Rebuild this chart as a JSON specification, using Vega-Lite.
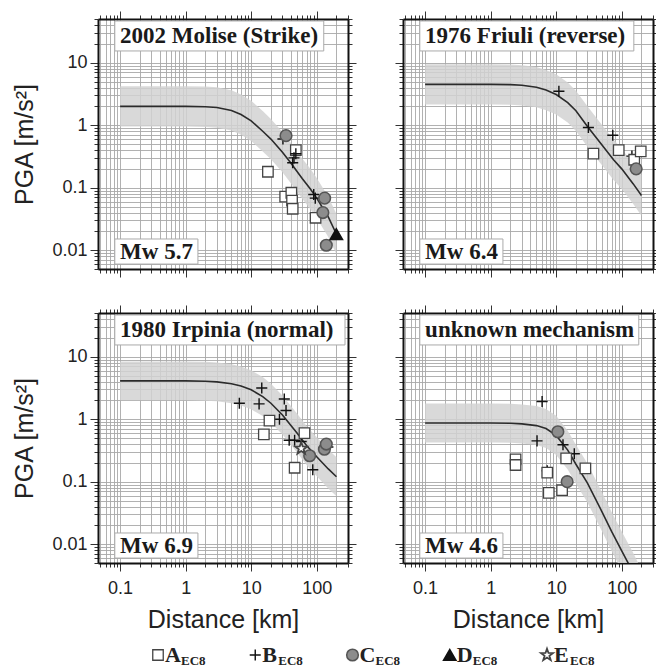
{
  "$schema": "https://vega.github.io/schema/vega-lite/v6.json",
  "background": "white",
  "padding": {"left": 12, "top": 10, "right": 0, "bottom": 0},
  "config": {
    "view": {"stroke": null},
    "axis": {
      "labelFont": "Liberation Sans", "labelFontSize": 18, "labelColor": "#222",
      "titleFont": "Liberation Sans", "titleFontSize": 25, "titleFontWeight": "normal", "titleColor": "#222",
      "gridColor": "#a8a8a8", "gridWidth": 0.9, "tickColor": "#333", "tickWidth": 1,
      "domainColor": "#111", "domainWidth": 2, "labelOverlap": false, "labelFlush": false, "minExtent": 0
    }
  },
  "datasets": {
    "model": [
      {"panel":"p1","dist":0.1,"pga":2.0,"lo":0.952,"hi":4.2},
      {"panel":"p1","dist":0.3,"pga":2.0,"lo":0.952,"hi":4.2},
      {"panel":"p1","dist":1,"pga":2.0,"lo":0.952,"hi":4.2},
      {"panel":"p1","dist":2,"pga":1.97,"lo":0.938,"hi":4.14},
      {"panel":"p1","dist":3,"pga":1.92,"lo":0.914,"hi":4.03},
      {"panel":"p1","dist":5,"pga":1.72,"lo":0.819,"hi":3.61},
      {"panel":"p1","dist":7,"pga":1.48,"lo":0.705,"hi":3.11},
      {"panel":"p1","dist":10,"pga":1.17,"lo":0.557,"hi":2.46},
      {"panel":"p1","dist":15,"pga":0.8,"lo":0.381,"hi":1.68},
      {"panel":"p1","dist":20,"pga":0.6,"lo":0.286,"hi":1.26},
      {"panel":"p1","dist":30,"pga":0.37,"lo":0.176,"hi":0.777},
      {"panel":"p1","dist":40,"pga":0.25,"lo":0.119,"hi":0.525},
      {"panel":"p1","dist":60,"pga":0.14,"lo":0.0667,"hi":0.294},
      {"panel":"p1","dist":80,"pga":0.095,"lo":0.0452,"hi":0.2},
      {"panel":"p1","dist":100,"pga":0.068,"lo":0.0324,"hi":0.143},
      {"panel":"p1","dist":150,"pga":0.034,"lo":0.0162,"hi":0.0714},
      {"panel":"p1","dist":200,"pga":0.018,"lo":0.00857,"hi":0.0378},
      {"panel":"p2","dist":0.1,"pga":4.5,"lo":2.14,"hi":9.45},
      {"panel":"p2","dist":0.3,"pga":4.5,"lo":2.14,"hi":9.45},
      {"panel":"p2","dist":1,"pga":4.5,"lo":2.14,"hi":9.45},
      {"panel":"p2","dist":2,"pga":4.45,"lo":2.12,"hi":9.35},
      {"panel":"p2","dist":3,"pga":4.35,"lo":2.07,"hi":9.14},
      {"panel":"p2","dist":5,"pga":4.05,"lo":1.93,"hi":8.5},
      {"panel":"p2","dist":7,"pga":3.65,"lo":1.74,"hi":7.67},
      {"panel":"p2","dist":10,"pga":3.1,"lo":1.48,"hi":6.51},
      {"panel":"p2","dist":15,"pga":2.3,"lo":1.1,"hi":4.83},
      {"panel":"p2","dist":20,"pga":1.7,"lo":0.81,"hi":3.57},
      {"panel":"p2","dist":30,"pga":0.95,"lo":0.452,"hi":2.0},
      {"panel":"p2","dist":50,"pga":0.48,"lo":0.229,"hi":1.01},
      {"panel":"p2","dist":75,"pga":0.28,"lo":0.133,"hi":0.588},
      {"panel":"p2","dist":100,"pga":0.2,"lo":0.0952,"hi":0.42},
      {"panel":"p2","dist":150,"pga":0.115,"lo":0.0548,"hi":0.242},
      {"panel":"p2","dist":200,"pga":0.075,"lo":0.0357,"hi":0.158},
      {"panel":"p3","dist":0.1,"pga":4.1,"lo":2.0,"hi":8.4},
      {"panel":"p3","dist":0.3,"pga":4.1,"lo":2.0,"hi":8.4},
      {"panel":"p3","dist":1,"pga":4.1,"lo":2.0,"hi":8.4},
      {"panel":"p3","dist":2,"pga":4.05,"lo":1.98,"hi":8.3},
      {"panel":"p3","dist":3,"pga":3.95,"lo":1.93,"hi":8.1},
      {"panel":"p3","dist":5,"pga":3.7,"lo":1.8,"hi":7.59},
      {"panel":"p3","dist":7,"pga":3.4,"lo":1.66,"hi":6.97},
      {"panel":"p3","dist":10,"pga":2.95,"lo":1.44,"hi":6.05},
      {"panel":"p3","dist":15,"pga":2.3,"lo":1.12,"hi":4.72},
      {"panel":"p3","dist":20,"pga":1.8,"lo":0.878,"hi":3.69},
      {"panel":"p3","dist":30,"pga":1.17,"lo":0.571,"hi":2.4},
      {"panel":"p3","dist":50,"pga":0.6,"lo":0.293,"hi":1.23},
      {"panel":"p3","dist":70,"pga":0.38,"lo":0.185,"hi":0.779},
      {"panel":"p3","dist":100,"pga":0.25,"lo":0.122,"hi":0.513},
      {"panel":"p3","dist":150,"pga":0.16,"lo":0.078,"hi":0.328},
      {"panel":"p3","dist":200,"pga":0.12,"lo":0.0585,"hi":0.246},
      {"panel":"p4","dist":0.1,"pga":0.87,"lo":0.424,"hi":1.78},
      {"panel":"p4","dist":0.3,"pga":0.87,"lo":0.424,"hi":1.78},
      {"panel":"p4","dist":1,"pga":0.87,"lo":0.424,"hi":1.78},
      {"panel":"p4","dist":2,"pga":0.86,"lo":0.42,"hi":1.76},
      {"panel":"p4","dist":3,"pga":0.84,"lo":0.41,"hi":1.72},
      {"panel":"p4","dist":5,"pga":0.79,"lo":0.385,"hi":1.62},
      {"panel":"p4","dist":7,"pga":0.71,"lo":0.346,"hi":1.46},
      {"panel":"p4","dist":10,"pga":0.55,"lo":0.268,"hi":1.13},
      {"panel":"p4","dist":15,"pga":0.32,"lo":0.156,"hi":0.656},
      {"panel":"p4","dist":20,"pga":0.19,"lo":0.0927,"hi":0.39},
      {"panel":"p4","dist":30,"pga":0.095,"lo":0.0463,"hi":0.195},
      {"panel":"p4","dist":50,"pga":0.033,"lo":0.0161,"hi":0.0677},
      {"panel":"p4","dist":70,"pga":0.016,"lo":0.0078,"hi":0.0328},
      {"panel":"p4","dist":100,"pga":0.0078,"lo":0.0038,"hi":0.016},
      {"panel":"p4","dist":150,"pga":0.0035,"lo":0.0017,"hi":0.0072},
      {"panel":"p4","dist":200,"pga":0.0019,"lo":0.00093,"hi":0.0039}
    ],
    "obs": [
      {"panel":"p1","site":"A","dist":18,"pga":0.18},
      {"panel":"p1","site":"A","dist":48,"pga":0.40},
      {"panel":"p1","site":"A","dist":33,"pga":0.072},
      {"panel":"p1","site":"A","dist":41,"pga":0.083},
      {"panel":"p1","site":"A","dist":42,"pga":0.062},
      {"panel":"p1","site":"A","dist":43,"pga":0.046},
      {"panel":"p1","site":"A","dist":96,"pga":0.033},
      {"panel":"p1","site":"B","dist":30.5,"pga":0.6},
      {"panel":"p1","site":"B","dist":48,"pga":0.35},
      {"panel":"p1","site":"B","dist":45,"pga":0.3},
      {"panel":"p1","site":"B","dist":43,"pga":0.25},
      {"panel":"p1","site":"B","dist":90,"pga":0.078},
      {"panel":"p1","site":"B","dist":95,"pga":0.068},
      {"panel":"p1","site":"C","dist":34,"pga":0.68},
      {"panel":"p1","site":"C","dist":132,"pga":0.068},
      {"panel":"p1","site":"C","dist":124,"pga":0.040},
      {"panel":"p1","site":"C","dist":140,"pga":0.012},
      {"panel":"p1","site":"D","dist":199,"pga":0.018},
      {"panel":"p2","site":"B","dist":11,"pga":3.5},
      {"panel":"p2","site":"B","dist":31,"pga":0.92},
      {"panel":"p2","site":"B","dist":73,"pga":0.69},
      {"panel":"p2","site":"B","dist":143,"pga":0.32},
      {"panel":"p2","site":"A","dist":37,"pga":0.35},
      {"panel":"p2","site":"A","dist":90,"pga":0.40},
      {"panel":"p2","site":"A","dist":155,"pga":0.28},
      {"panel":"p2","site":"A","dist":195,"pga":0.38},
      {"panel":"p2","site":"C","dist":166,"pga":0.20},
      {"panel":"p3","site":"B","dist":6.6,"pga":1.8},
      {"panel":"p3","site":"B","dist":13.2,"pga":1.76},
      {"panel":"p3","site":"B","dist":14.5,"pga":3.15},
      {"panel":"p3","site":"B","dist":32,"pga":2.1},
      {"panel":"p3","site":"B","dist":34,"pga":1.38},
      {"panel":"p3","site":"B","dist":27,"pga":1.0},
      {"panel":"p3","site":"B","dist":38,"pga":0.46},
      {"panel":"p3","site":"B","dist":46,"pga":0.46},
      {"panel":"p3","site":"B","dist":58,"pga":0.44},
      {"panel":"p3","site":"B","dist":87,"pga":0.155},
      {"panel":"p3","site":"B","dist":148,"pga":0.36},
      {"panel":"p3","site":"A","dist":19,"pga":0.95},
      {"panel":"p3","site":"A","dist":15.6,"pga":0.57},
      {"panel":"p3","site":"A","dist":65,"pga":0.6},
      {"panel":"p3","site":"A","dist":46,"pga":0.167},
      {"panel":"p3","site":"C","dist":78,"pga":0.26},
      {"panel":"p3","site":"C","dist":131,"pga":0.33},
      {"panel":"p3","site":"C","dist":140,"pga":0.40},
      {"panel":"p3","site":"E","dist":58,"pga":0.34},
      {"panel":"p4","site":"B","dist":6.1,"pga":1.92},
      {"panel":"p4","site":"B","dist":5.1,"pga":0.45},
      {"panel":"p4","site":"B","dist":12.7,"pga":0.39},
      {"panel":"p4","site":"B","dist":18.9,"pga":0.28},
      {"panel":"p4","site":"B","dist":7.3,"pga":0.15},
      {"panel":"p4","site":"A","dist":2.4,"pga":0.227},
      {"panel":"p4","site":"A","dist":2.4,"pga":0.185},
      {"panel":"p4","site":"A","dist":14.2,"pga":0.236},
      {"panel":"p4","site":"A","dist":27.9,"pga":0.163},
      {"panel":"p4","site":"A","dist":7.3,"pga":0.14},
      {"panel":"p4","site":"A","dist":12.3,"pga":0.073},
      {"panel":"p4","site":"A","dist":7.7,"pga":0.066},
      {"panel":"p4","site":"C","dist":10.6,"pga":0.63},
      {"panel":"p4","site":"C","dist":14.7,"pga":0.10}
    ],
    "sites": [{"site":"A"},{"site":"B"},{"site":"C"},{"site":"D"},{"site":"E"}],
    "one": [{}]
  },
  "vconcat": [
    {
      "spacing": 26,
      "vconcat": [
        {
          "spacing": 37,
          "hconcat": [
            {
              "width": 250, "height": 250,
              "resolve": {"axis": {"x": "independent", "y": "independent"}},
              "layer": [
                {"data": {"name": "model"}, "transform": [{"filter": "datum.panel === 'p1'"}],
                 "mark": {"type": "area", "color": "#d2d2d2", "opacity": 0.85, "clip": true},
                 "encoding": {
                   "x": {"field": "dist", "type": "quantitative", "scale": {"type": "log", "domain": [0.046, 300], "nice": false},
                         "axis": {"orient": "bottom", "values": [0.05,0.06,0.07,0.08,0.09,0.1,0.2,0.3,0.4,0.5,0.6,0.7,0.8,0.9,1,2,3,4,5,6,7,8,9,10,20,30,40,50,60,70,80,90,100,200,300], "grid": true, "labels": false, "title": null,
                                  "tickSize": {"condition": {"test": "abs(log(datum.value)/LN10 - round(log(datum.value)/LN10)) < 0.01", "value": 8}, "value": 4}}},
                   "y": {"field": "lo", "type": "quantitative", "scale": {"type": "log", "domain": [0.005, 50], "nice": false},
                         "axis": {"orient": "left", "values": [0.005,0.006,0.007,0.008,0.009,0.01,0.02,0.03,0.04,0.05,0.06,0.07,0.08,0.09,0.1,0.2,0.3,0.4,0.5,0.6,0.7,0.8,0.9,1,2,3,4,5,6,7,8,9,10,20,30,40,50], "grid": true,
                                  "labelExpr": "abs(log(datum.value)/LN10 - round(log(datum.value)/LN10)) < 0.01 ? format(datum.value, '~g') : ''", "labelPadding": 3,
                                  "title": "PGA [m/s²]", "titlePadding": 14,
                                  "tickSize": {"condition": {"test": "abs(log(datum.value)/LN10 - round(log(datum.value)/LN10)) < 0.01", "value": 8}, "value": 4}}},
                   "y2": {"field": "hi"}
                 }},
                {"data": {"name": "model"}, "transform": [{"filter": "datum.panel === 'p1'"}],
                 "mark": {"type": "line", "color": "#2b2b2b", "strokeWidth": 1.6, "clip": true},
                 "encoding": {
                   "x": {"field": "dist", "type": "quantitative", "scale": {"type": "log", "domain": [0.046, 300], "nice": false},
                         "axis": {"orient": "top", "values": [0.05,0.06,0.07,0.08,0.09,0.1,0.2,0.3,0.4,0.5,0.6,0.7,0.8,0.9,1,2,3,4,5,6,7,8,9,10,20,30,40,50,60,70,80,90,100,200,300], "grid": false, "labels": false, "title": null,
                                  "tickSize": {"condition": {"test": "abs(log(datum.value)/LN10 - round(log(datum.value)/LN10)) < 0.01", "value": 8}, "value": 4}}},
                   "y": {"field": "pga", "type": "quantitative", "scale": {"type": "log", "domain": [0.005, 50], "nice": false},
                         "axis": {"orient": "right", "values": [0.005,0.006,0.007,0.008,0.009,0.01,0.02,0.03,0.04,0.05,0.06,0.07,0.08,0.09,0.1,0.2,0.3,0.4,0.5,0.6,0.7,0.8,0.9,1,2,3,4,5,6,7,8,9,10,20,30,40,50], "grid": false, "labels": false, "title": null,
                                  "tickSize": {"condition": {"test": "abs(log(datum.value)/LN10 - round(log(datum.value)/LN10)) < 0.01", "value": 8}, "value": 4}}}
                 }},
                {"data": {"name": "obs"}, "transform": [{"filter": "datum.panel === 'p1'"}],
                 "mark": {"type": "point", "opacity": 1},
                 "encoding": {
                   "x": {"field": "dist", "type": "quantitative", "axis": null},
                   "y": {"field": "pga", "type": "quantitative", "axis": null},
                   "shape": {"field": "site", "type": "nominal", "legend": null, "scale": {"domain": ["A","B","C","D","E"], "range": ["square", "M-1,0L1,0M0,-1L0,1", "circle", "triangle-up", "M0,-1L0.235,-0.324L0.951,-0.309L0.38,0.124L0.588,0.809L0,0.4L-0.588,0.809L-0.38,0.124L-0.951,-0.309L-0.235,-0.324Z"]}},
                   "fill": {"field": "site", "type": "nominal", "legend": null, "scale": {"domain": ["A","B","C","D","E"], "range": ["white", "transparent", "#8c8c8c", "#111", "white"]}},
                   "stroke": {"field": "site", "type": "nominal", "legend": null, "scale": {"domain": ["A","B","C","D","E"], "range": ["#444", "#111", "#555", "#111", "#444"]}},
                   "size": {"field": "site", "type": "ordinal", "legend": null, "scale": {"domain": ["A","B","C","D","E"], "range": [110, 160, 110, 80, 100]}},
                   "strokeWidth": {"field": "site", "type": "ordinal", "legend": null, "scale": {"domain": ["A","B","C","D","E"], "range": [1.3, 1.8, 1.2, 1, 1.2]}}
                 }},
                {"data": {"name": "one"}, "mark": {"type": "rect", "fill": "white", "stroke": "#aaa", "strokeWidth": 1},
                 "encoding": {"x": {"datum": 0.083, "type": "quantitative", "axis": null}, "x2": {"datum": 128}, "y": {"datum": 15.4, "type": "quantitative", "axis": null}, "y2": {"datum": 46.5}}},
                {"data": {"name": "one"}, "mark": {"type": "text", "font": "Liberation Serif", "fontWeight": "bold", "fontSize": 23, "align": "left", "baseline": "alphabetic", "color": "#1a1a1a"},
                 "encoding": {"x": {"datum": 0.1, "type": "quantitative", "axis": null}, "y": {"datum": 20.6, "type": "quantitative", "axis": null}, "text": {"value": "2002 Molise (Strike)"}}},
                {"data": {"name": "one"}, "mark": {"type": "rect", "fill": "white", "stroke": "#aaa", "strokeWidth": 1},
                 "encoding": {"x": {"datum": 0.083, "type": "quantitative", "axis": null}, "x2": {"datum": 1.54}, "y": {"datum": 0.006, "type": "quantitative", "axis": null}, "y2": {"datum": 0.0151}}},
                {"data": {"name": "one"}, "mark": {"type": "text", "font": "Liberation Serif", "fontWeight": "bold", "fontSize": 23, "align": "left", "baseline": "alphabetic", "color": "#1a1a1a"},
                 "encoding": {"x": {"datum": 0.1, "type": "quantitative", "axis": null}, "y": {"datum": 0.0072, "type": "quantitative", "axis": null}, "text": {"value": "Mw 5.7"}}}
              ]
            },
            {
              "width": 250, "height": 250,
              "resolve": {"axis": {"x": "independent", "y": "independent"}},
              "layer": [
                {"data": {"name": "model"}, "transform": [{"filter": "datum.panel === 'p2'"}],
                 "mark": {"type": "area", "color": "#d2d2d2", "opacity": 0.85, "clip": true},
                 "encoding": {
                   "x": {"field": "dist", "type": "quantitative", "scale": {"type": "log", "domain": [0.046, 300], "nice": false},
                         "axis": {"orient": "bottom", "values": [0.05,0.06,0.07,0.08,0.09,0.1,0.2,0.3,0.4,0.5,0.6,0.7,0.8,0.9,1,2,3,4,5,6,7,8,9,10,20,30,40,50,60,70,80,90,100,200,300], "grid": true, "labels": false, "title": null,
                                  "tickSize": {"condition": {"test": "abs(log(datum.value)/LN10 - round(log(datum.value)/LN10)) < 0.01", "value": 8}, "value": 4}}},
                   "y": {"field": "lo", "type": "quantitative", "scale": {"type": "log", "domain": [0.005, 50], "nice": false},
                         "axis": {"orient": "left", "values": [0.005,0.006,0.007,0.008,0.009,0.01,0.02,0.03,0.04,0.05,0.06,0.07,0.08,0.09,0.1,0.2,0.3,0.4,0.5,0.6,0.7,0.8,0.9,1,2,3,4,5,6,7,8,9,10,20,30,40,50], "grid": true, "labels": false, "title": null,
                                  "tickSize": {"condition": {"test": "abs(log(datum.value)/LN10 - round(log(datum.value)/LN10)) < 0.01", "value": 8}, "value": 4}}},
                   "y2": {"field": "hi"}
                 }},
                {"data": {"name": "model"}, "transform": [{"filter": "datum.panel === 'p2'"}],
                 "mark": {"type": "line", "color": "#2b2b2b", "strokeWidth": 1.6, "clip": true},
                 "encoding": {
                   "x": {"field": "dist", "type": "quantitative", "scale": {"type": "log", "domain": [0.046, 300], "nice": false},
                         "axis": {"orient": "top", "values": [0.05,0.06,0.07,0.08,0.09,0.1,0.2,0.3,0.4,0.5,0.6,0.7,0.8,0.9,1,2,3,4,5,6,7,8,9,10,20,30,40,50,60,70,80,90,100,200,300], "grid": false, "labels": false, "title": null,
                                  "tickSize": {"condition": {"test": "abs(log(datum.value)/LN10 - round(log(datum.value)/LN10)) < 0.01", "value": 8}, "value": 4}}},
                   "y": {"field": "pga", "type": "quantitative", "scale": {"type": "log", "domain": [0.005, 50], "nice": false},
                         "axis": {"orient": "right", "values": [0.005,0.006,0.007,0.008,0.009,0.01,0.02,0.03,0.04,0.05,0.06,0.07,0.08,0.09,0.1,0.2,0.3,0.4,0.5,0.6,0.7,0.8,0.9,1,2,3,4,5,6,7,8,9,10,20,30,40,50], "grid": false, "labels": false, "title": null,
                                  "tickSize": {"condition": {"test": "abs(log(datum.value)/LN10 - round(log(datum.value)/LN10)) < 0.01", "value": 8}, "value": 4}}}
                 }},
                {"data": {"name": "obs"}, "transform": [{"filter": "datum.panel === 'p2'"}],
                 "mark": {"type": "point", "opacity": 1},
                 "encoding": {
                   "x": {"field": "dist", "type": "quantitative", "axis": null},
                   "y": {"field": "pga", "type": "quantitative", "axis": null},
                   "shape": {"field": "site", "type": "nominal", "legend": null, "scale": {"domain": ["A","B","C","D","E"], "range": ["square", "M-1,0L1,0M0,-1L0,1", "circle", "triangle-up", "M0,-1L0.235,-0.324L0.951,-0.309L0.38,0.124L0.588,0.809L0,0.4L-0.588,0.809L-0.38,0.124L-0.951,-0.309L-0.235,-0.324Z"]}},
                   "fill": {"field": "site", "type": "nominal", "legend": null, "scale": {"domain": ["A","B","C","D","E"], "range": ["white", "transparent", "#8c8c8c", "#111", "white"]}},
                   "stroke": {"field": "site", "type": "nominal", "legend": null, "scale": {"domain": ["A","B","C","D","E"], "range": ["#444", "#111", "#555", "#111", "#444"]}},
                   "size": {"field": "site", "type": "ordinal", "legend": null, "scale": {"domain": ["A","B","C","D","E"], "range": [110, 160, 110, 80, 100]}},
                   "strokeWidth": {"field": "site", "type": "ordinal", "legend": null, "scale": {"domain": ["A","B","C","D","E"], "range": [1.3, 1.8, 1.2, 1, 1.2]}}
                 }},
                {"data": {"name": "one"}, "mark": {"type": "rect", "fill": "white", "stroke": "#aaa", "strokeWidth": 1},
                 "encoding": {"x": {"datum": 0.083, "type": "quantitative", "axis": null}, "x2": {"datum": 153}, "y": {"datum": 15.4, "type": "quantitative", "axis": null}, "y2": {"datum": 46.5}}},
                {"data": {"name": "one"}, "mark": {"type": "text", "font": "Liberation Serif", "fontWeight": "bold", "fontSize": 23, "align": "left", "baseline": "alphabetic", "color": "#1a1a1a"},
                 "encoding": {"x": {"datum": 0.1, "type": "quantitative", "axis": null}, "y": {"datum": 20.6, "type": "quantitative", "axis": null}, "text": {"value": "1976 Friuli (reverse)"}}},
                {"data": {"name": "one"}, "mark": {"type": "rect", "fill": "white", "stroke": "#aaa", "strokeWidth": 1},
                 "encoding": {"x": {"datum": 0.083, "type": "quantitative", "axis": null}, "x2": {"datum": 1.54}, "y": {"datum": 0.006, "type": "quantitative", "axis": null}, "y2": {"datum": 0.0151}}},
                {"data": {"name": "one"}, "mark": {"type": "text", "font": "Liberation Serif", "fontWeight": "bold", "fontSize": 23, "align": "left", "baseline": "alphabetic", "color": "#1a1a1a"},
                 "encoding": {"x": {"datum": 0.1, "type": "quantitative", "axis": null}, "y": {"datum": 0.0072, "type": "quantitative", "axis": null}, "text": {"value": "Mw 6.4"}}}
              ]
            }
          ]
        },
        {
          "spacing": 37,
          "hconcat": [
            {
              "width": 250, "height": 250,
              "resolve": {"axis": {"x": "independent", "y": "independent"}},
              "layer": [
                {"data": {"name": "model"}, "transform": [{"filter": "datum.panel === 'p3'"}],
                 "mark": {"type": "area", "color": "#d2d2d2", "opacity": 0.85, "clip": true},
                 "encoding": {
                   "x": {"field": "dist", "type": "quantitative", "scale": {"type": "log", "domain": [0.046, 300], "nice": false},
                         "axis": {"orient": "bottom", "values": [0.05,0.06,0.07,0.08,0.09,0.1,0.2,0.3,0.4,0.5,0.6,0.7,0.8,0.9,1,2,3,4,5,6,7,8,9,10,20,30,40,50,60,70,80,90,100,200,300], "grid": true,
                                  "labelExpr": "abs(log(datum.value)/LN10 - round(log(datum.value)/LN10)) < 0.01 ? format(datum.value, '~g') : ''", "labelPadding": 8,
                                  "title": "Distance [km]", "titlePadding": 10,
                                  "tickSize": {"condition": {"test": "abs(log(datum.value)/LN10 - round(log(datum.value)/LN10)) < 0.01", "value": 8}, "value": 4}}},
                   "y": {"field": "lo", "type": "quantitative", "scale": {"type": "log", "domain": [0.005, 50], "nice": false},
                         "axis": {"orient": "left", "values": [0.005,0.006,0.007,0.008,0.009,0.01,0.02,0.03,0.04,0.05,0.06,0.07,0.08,0.09,0.1,0.2,0.3,0.4,0.5,0.6,0.7,0.8,0.9,1,2,3,4,5,6,7,8,9,10,20,30,40,50], "grid": true,
                                  "labelExpr": "abs(log(datum.value)/LN10 - round(log(datum.value)/LN10)) < 0.01 ? format(datum.value, '~g') : ''", "labelPadding": 3,
                                  "title": "PGA [m/s²]", "titlePadding": 14,
                                  "tickSize": {"condition": {"test": "abs(log(datum.value)/LN10 - round(log(datum.value)/LN10)) < 0.01", "value": 8}, "value": 4}}},
                   "y2": {"field": "hi"}
                 }},
                {"data": {"name": "model"}, "transform": [{"filter": "datum.panel === 'p3'"}],
                 "mark": {"type": "line", "color": "#2b2b2b", "strokeWidth": 1.6, "clip": true},
                 "encoding": {
                   "x": {"field": "dist", "type": "quantitative", "scale": {"type": "log", "domain": [0.046, 300], "nice": false},
                         "axis": {"orient": "top", "values": [0.05,0.06,0.07,0.08,0.09,0.1,0.2,0.3,0.4,0.5,0.6,0.7,0.8,0.9,1,2,3,4,5,6,7,8,9,10,20,30,40,50,60,70,80,90,100,200,300], "grid": false, "labels": false, "title": null,
                                  "tickSize": {"condition": {"test": "abs(log(datum.value)/LN10 - round(log(datum.value)/LN10)) < 0.01", "value": 8}, "value": 4}}},
                   "y": {"field": "pga", "type": "quantitative", "scale": {"type": "log", "domain": [0.005, 50], "nice": false},
                         "axis": {"orient": "right", "values": [0.005,0.006,0.007,0.008,0.009,0.01,0.02,0.03,0.04,0.05,0.06,0.07,0.08,0.09,0.1,0.2,0.3,0.4,0.5,0.6,0.7,0.8,0.9,1,2,3,4,5,6,7,8,9,10,20,30,40,50], "grid": false, "labels": false, "title": null,
                                  "tickSize": {"condition": {"test": "abs(log(datum.value)/LN10 - round(log(datum.value)/LN10)) < 0.01", "value": 8}, "value": 4}}}
                 }},
                {"data": {"name": "obs"}, "transform": [{"filter": "datum.panel === 'p3'"}],
                 "mark": {"type": "point", "opacity": 1},
                 "encoding": {
                   "x": {"field": "dist", "type": "quantitative", "axis": null},
                   "y": {"field": "pga", "type": "quantitative", "axis": null},
                   "shape": {"field": "site", "type": "nominal", "legend": null, "scale": {"domain": ["A","B","C","D","E"], "range": ["square", "M-1,0L1,0M0,-1L0,1", "circle", "triangle-up", "M0,-1L0.235,-0.324L0.951,-0.309L0.38,0.124L0.588,0.809L0,0.4L-0.588,0.809L-0.38,0.124L-0.951,-0.309L-0.235,-0.324Z"]}},
                   "fill": {"field": "site", "type": "nominal", "legend": null, "scale": {"domain": ["A","B","C","D","E"], "range": ["white", "transparent", "#8c8c8c", "#111", "white"]}},
                   "stroke": {"field": "site", "type": "nominal", "legend": null, "scale": {"domain": ["A","B","C","D","E"], "range": ["#444", "#111", "#555", "#111", "#444"]}},
                   "size": {"field": "site", "type": "ordinal", "legend": null, "scale": {"domain": ["A","B","C","D","E"], "range": [110, 160, 110, 80, 100]}},
                   "strokeWidth": {"field": "site", "type": "ordinal", "legend": null, "scale": {"domain": ["A","B","C","D","E"], "range": [1.3, 1.8, 1.2, 1, 1.2]}}
                 }},
                {"data": {"name": "one"}, "mark": {"type": "rect", "fill": "white", "stroke": "#aaa", "strokeWidth": 1},
                 "encoding": {"x": {"datum": 0.083, "type": "quantitative", "axis": null}, "x2": {"datum": 270}, "y": {"datum": 15.4, "type": "quantitative", "axis": null}, "y2": {"datum": 46.5}}},
                {"data": {"name": "one"}, "mark": {"type": "text", "font": "Liberation Serif", "fontWeight": "bold", "fontSize": 23, "align": "left", "baseline": "alphabetic", "color": "#1a1a1a"},
                 "encoding": {"x": {"datum": 0.1, "type": "quantitative", "axis": null}, "y": {"datum": 20.6, "type": "quantitative", "axis": null}, "text": {"value": "1980 Irpinia (normal)"}}},
                {"data": {"name": "one"}, "mark": {"type": "rect", "fill": "white", "stroke": "#aaa", "strokeWidth": 1},
                 "encoding": {"x": {"datum": 0.083, "type": "quantitative", "axis": null}, "x2": {"datum": 1.54}, "y": {"datum": 0.006, "type": "quantitative", "axis": null}, "y2": {"datum": 0.0151}}},
                {"data": {"name": "one"}, "mark": {"type": "text", "font": "Liberation Serif", "fontWeight": "bold", "fontSize": 23, "align": "left", "baseline": "alphabetic", "color": "#1a1a1a"},
                 "encoding": {"x": {"datum": 0.1, "type": "quantitative", "axis": null}, "y": {"datum": 0.0072, "type": "quantitative", "axis": null}, "text": {"value": "Mw 6.9"}}}
              ]
            },
            {
              "width": 250, "height": 250,
              "resolve": {"axis": {"x": "independent", "y": "independent"}},
              "layer": [
                {"data": {"name": "model"}, "transform": [{"filter": "datum.panel === 'p4'"}],
                 "mark": {"type": "area", "color": "#d2d2d2", "opacity": 0.85, "clip": true},
                 "encoding": {
                   "x": {"field": "dist", "type": "quantitative", "scale": {"type": "log", "domain": [0.046, 300], "nice": false},
                         "axis": {"orient": "bottom", "values": [0.05,0.06,0.07,0.08,0.09,0.1,0.2,0.3,0.4,0.5,0.6,0.7,0.8,0.9,1,2,3,4,5,6,7,8,9,10,20,30,40,50,60,70,80,90,100,200,300], "grid": true,
                                  "labelExpr": "abs(log(datum.value)/LN10 - round(log(datum.value)/LN10)) < 0.01 ? format(datum.value, '~g') : ''", "labelPadding": 8,
                                  "title": "Distance [km]", "titlePadding": 10,
                                  "tickSize": {"condition": {"test": "abs(log(datum.value)/LN10 - round(log(datum.value)/LN10)) < 0.01", "value": 8}, "value": 4}}},
                   "y": {"field": "lo", "type": "quantitative", "scale": {"type": "log", "domain": [0.005, 50], "nice": false},
                         "axis": {"orient": "left", "values": [0.005,0.006,0.007,0.008,0.009,0.01,0.02,0.03,0.04,0.05,0.06,0.07,0.08,0.09,0.1,0.2,0.3,0.4,0.5,0.6,0.7,0.8,0.9,1,2,3,4,5,6,7,8,9,10,20,30,40,50], "grid": true, "labels": false, "title": null,
                                  "tickSize": {"condition": {"test": "abs(log(datum.value)/LN10 - round(log(datum.value)/LN10)) < 0.01", "value": 8}, "value": 4}}},
                   "y2": {"field": "hi"}
                 }},
                {"data": {"name": "model"}, "transform": [{"filter": "datum.panel === 'p4'"}],
                 "mark": {"type": "line", "color": "#2b2b2b", "strokeWidth": 1.6, "clip": true},
                 "encoding": {
                   "x": {"field": "dist", "type": "quantitative", "scale": {"type": "log", "domain": [0.046, 300], "nice": false},
                         "axis": {"orient": "top", "values": [0.05,0.06,0.07,0.08,0.09,0.1,0.2,0.3,0.4,0.5,0.6,0.7,0.8,0.9,1,2,3,4,5,6,7,8,9,10,20,30,40,50,60,70,80,90,100,200,300], "grid": false, "labels": false, "title": null,
                                  "tickSize": {"condition": {"test": "abs(log(datum.value)/LN10 - round(log(datum.value)/LN10)) < 0.01", "value": 8}, "value": 4}}},
                   "y": {"field": "pga", "type": "quantitative", "scale": {"type": "log", "domain": [0.005, 50], "nice": false},
                         "axis": {"orient": "right", "values": [0.005,0.006,0.007,0.008,0.009,0.01,0.02,0.03,0.04,0.05,0.06,0.07,0.08,0.09,0.1,0.2,0.3,0.4,0.5,0.6,0.7,0.8,0.9,1,2,3,4,5,6,7,8,9,10,20,30,40,50], "grid": false, "labels": false, "title": null,
                                  "tickSize": {"condition": {"test": "abs(log(datum.value)/LN10 - round(log(datum.value)/LN10)) < 0.01", "value": 8}, "value": 4}}}
                 }},
                {"data": {"name": "obs"}, "transform": [{"filter": "datum.panel === 'p4'"}],
                 "mark": {"type": "point", "opacity": 1},
                 "encoding": {
                   "x": {"field": "dist", "type": "quantitative", "axis": null},
                   "y": {"field": "pga", "type": "quantitative", "axis": null},
                   "shape": {"field": "site", "type": "nominal", "legend": null, "scale": {"domain": ["A","B","C","D","E"], "range": ["square", "M-1,0L1,0M0,-1L0,1", "circle", "triangle-up", "M0,-1L0.235,-0.324L0.951,-0.309L0.38,0.124L0.588,0.809L0,0.4L-0.588,0.809L-0.38,0.124L-0.951,-0.309L-0.235,-0.324Z"]}},
                   "fill": {"field": "site", "type": "nominal", "legend": null, "scale": {"domain": ["A","B","C","D","E"], "range": ["white", "transparent", "#8c8c8c", "#111", "white"]}},
                   "stroke": {"field": "site", "type": "nominal", "legend": null, "scale": {"domain": ["A","B","C","D","E"], "range": ["#444", "#111", "#555", "#111", "#444"]}},
                   "size": {"field": "site", "type": "ordinal", "legend": null, "scale": {"domain": ["A","B","C","D","E"], "range": [110, 160, 110, 80, 100]}},
                   "strokeWidth": {"field": "site", "type": "ordinal", "legend": null, "scale": {"domain": ["A","B","C","D","E"], "range": [1.3, 1.8, 1.2, 1, 1.2]}}
                 }},
                {"data": {"name": "one"}, "mark": {"type": "rect", "fill": "white", "stroke": "#aaa", "strokeWidth": 1},
                 "encoding": {"x": {"datum": 0.083, "type": "quantitative", "axis": null}, "x2": {"datum": 182}, "y": {"datum": 15.4, "type": "quantitative", "axis": null}, "y2": {"datum": 46.5}}},
                {"data": {"name": "one"}, "mark": {"type": "text", "font": "Liberation Serif", "fontWeight": "bold", "fontSize": 23, "align": "left", "baseline": "alphabetic", "color": "#1a1a1a"},
                 "encoding": {"x": {"datum": 0.1, "type": "quantitative", "axis": null}, "y": {"datum": 20.6, "type": "quantitative", "axis": null}, "text": {"value": "unknown mechanism"}}},
                {"data": {"name": "one"}, "mark": {"type": "rect", "fill": "white", "stroke": "#aaa", "strokeWidth": 1},
                 "encoding": {"x": {"datum": 0.083, "type": "quantitative", "axis": null}, "x2": {"datum": 1.54}, "y": {"datum": 0.006, "type": "quantitative", "axis": null}, "y2": {"datum": 0.0151}}},
                {"data": {"name": "one"}, "mark": {"type": "text", "font": "Liberation Serif", "fontWeight": "bold", "fontSize": 23, "align": "left", "baseline": "alphabetic", "color": "#1a1a1a"},
                 "encoding": {"x": {"datum": 0.1, "type": "quantitative", "axis": null}, "y": {"datum": 0.0072, "type": "quantitative", "axis": null}, "text": {"value": "Mw 4.6"}}}
              ]
            }
          ]
        }
      ]
    },
    {
      "width": 500, "height": 16,
      "data": {"name": "sites"},
      "layer": [
        {"mark": {"type": "point", "opacity": 1},
         "encoding": {
           "x": {"field": "site", "type": "nominal", "scale": {"type": "point", "padding": 0, "range": [60, 449]}, "axis": null},
           "shape": {"field": "site", "type": "nominal", "legend": null, "scale": {"domain": ["A","B","C","D","E"], "range": ["square", "M-1,0L1,0M0,-1L0,1", "circle", "triangle-up", "M0,-1L0.235,-0.324L0.951,-0.309L0.38,0.124L0.588,0.809L0,0.4L-0.588,0.809L-0.38,0.124L-0.951,-0.309L-0.235,-0.324Z"]}},
           "fill": {"field": "site", "type": "nominal", "legend": null, "scale": {"domain": ["A","B","C","D","E"], "range": ["white", "transparent", "#8c8c8c", "#111", "white"]}},
           "stroke": {"field": "site", "type": "nominal", "legend": null, "scale": {"domain": ["A","B","C","D","E"], "range": ["#444", "#111", "#555", "#111", "#444"]}},
           "size": {"field": "site", "type": "ordinal", "legend": null, "scale": {"domain": ["A","B","C","D","E"], "range": [130, 130, 110, 60, 90]}},
           "strokeWidth": {"field": "site", "type": "ordinal", "legend": null, "scale": {"domain": ["A","B","C","D","E"], "range": [1.2, 1.6, 1.2, 1, 1.1]}}
         }},
        {"mark": {"type": "text", "font": "Liberation Serif", "fontWeight": "bold", "fontSize": 22, "align": "left", "baseline": "middle", "dx": 7, "color": "#222"},
         "encoding": {"x": {"field": "site", "type": "nominal", "axis": null}, "text": {"field": "site"}}},
        {"mark": {"type": "text", "font": "Liberation Serif", "fontWeight": "bold", "fontSize": 13, "align": "left", "baseline": "middle", "dx": 23, "dy": 6, "color": "#222"},
         "encoding": {"x": {"field": "site", "type": "nominal", "axis": null}, "text": {"value": "EC8"}}}
      ]
    }
  ],
  "spacing": 12
}
